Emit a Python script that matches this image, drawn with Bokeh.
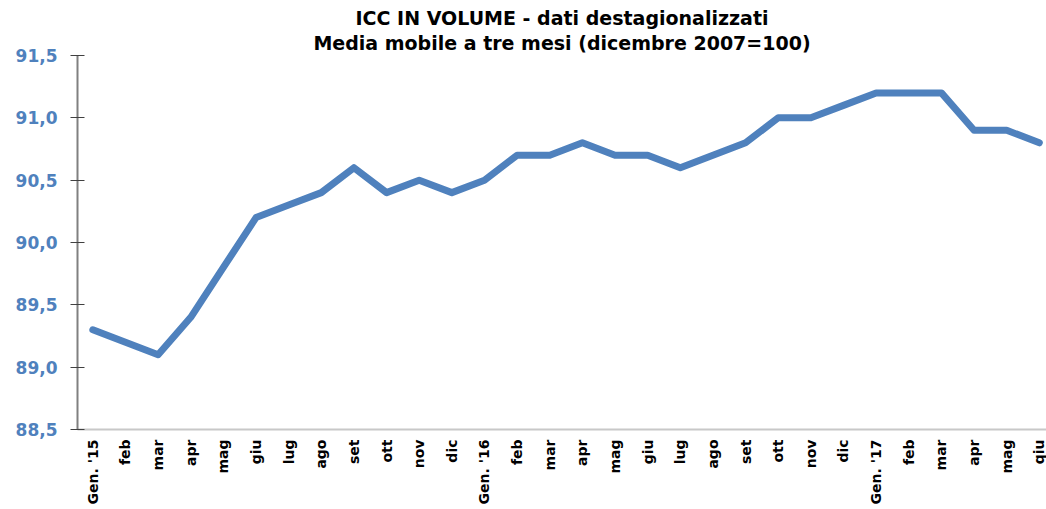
import math
from bokeh.plotting import figure
from bokeh.models import FixedTicker, Title, Range1d
from bokeh.embed import file_html
from bokeh.resources import INLINE

months = ["Gen. '15", "feb", "mar", "apr", "mag", "giu", "lug", "ago", "set", "ott", "nov", "dic",
          "Gen. '16", "feb", "mar", "apr", "mag", "giu", "lug", "ago", "set", "ott", "nov", "dic",
          "Gen. '17", "feb", "mar", "apr", "mag", "qiu"]
values = [89.3, 89.2, 89.1, 89.4, 89.8, 90.2, 90.3, 90.4, 90.6, 90.4, 90.5, 90.4,
          90.5, 90.7, 90.7, 90.8, 90.7, 90.7, 90.6, 90.7, 90.8, 91.0, 91.0, 91.1,
          91.2, 91.2, 91.2, 90.9, 90.9, 90.8]
y_ticks = [88.5, 89.0, 89.5, 90.0, 90.5, 91.0, 91.5]
y_tick_labels = ["88,5", "89,0", "89,5", "90,0", "90,5", "91,0", "91,5"]
title_lines = ["ICC IN VOLUME - dati destagionalizzati",
               "Media mobile a tre mesi (dicembre 2007=100)"]

xs = list(range(len(months)))

p = figure(width=1046, height=509, output_backend="svg", toolbar_location=None,
           x_range=Range1d(-0.47, 29.22), y_range=Range1d(88.5, 91.5))
p.min_border_left = 77
p.min_border_right = 0
p.min_border_top = 55
p.min_border_bottom = 80
p.outline_line_color = None
p.xgrid.grid_line_color = None
p.ygrid.grid_line_color = None
p.background_fill_color = "white"
p.border_fill_color = "white"

p.line(xs, values, line_color="#4F81BD", line_width=7, line_cap="round", line_join="round")

# titles (added from plot outward)
p.add_layout(Title(text=title_lines[1], align="center", offset=86,
                   text_font="DejaVu Sans", text_font_size="19px", text_font_style="bold",
                   text_color="black", standoff=3, text_line_height=0.9), "above")
p.add_layout(Title(text=title_lines[0], align="center", offset=86,
                   text_font="DejaVu Sans", text_font_size="19px", text_font_style="bold",
                   text_color="black", standoff=0, text_line_height=0.9), "above")

# x axis
xa = p.xaxis[0]
xa.ticker = FixedTicker(ticks=xs)
xa.major_label_overrides = {i: m for i, m in enumerate(months)}
xa.major_label_orientation = math.pi / 2
xa.major_label_text_font = "DejaVu Sans"
xa.major_label_text_font_style = "bold"
xa.major_label_text_font_size = "14px"
xa.major_label_text_color = "black"
xa.major_label_standoff = 10
xa.axis_line_color = "#C8C8C8"
xa.axis_line_width = 2
xa.major_tick_line_color = None
xa.major_tick_out = 0
xa.major_tick_in = 0
xa.minor_tick_line_color = None

# y axis
ya = p.yaxis[0]
ya.ticker = FixedTicker(ticks=y_ticks)
ya.major_label_overrides = {t: l for t, l in zip(y_ticks, y_tick_labels)}
ya.major_label_text_font = "DejaVu Sans"
ya.major_label_text_font_style = "bold"
ya.major_label_text_font_size = "17px"
ya.major_label_text_color = "#4F81BD"
ya.major_label_standoff = 13
ya.axis_line_color = "#808080"
ya.axis_line_width = 2
ya.major_tick_line_color = "#404040"
ya.major_tick_in = 7
ya.major_tick_out = 7
ya.minor_tick_line_color = None

open("out.html", "w").write(file_html(p, INLINE))
